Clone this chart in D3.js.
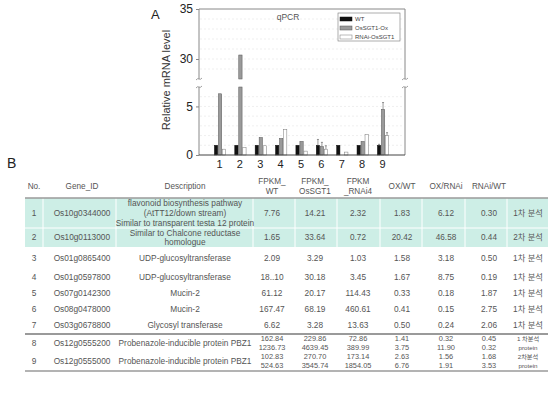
<!DOCTYPE html>
<html><head><meta charset="utf-8">
<script src="https://cdn.jsdelivr.net/npm/d3@7"></script>
<style>body{margin:0;background:#fff}svg{display:block}text{font-family:"Liberation Sans",Arial,"Noto Sans CJK KR",sans-serif}</style>
</head><body>
<svg id="c" width="559" height="414"></svg>
<script>
// ---- chart A data ----
const categories = ["1","2","3","4","5","6","7","8","9"];
const seriesNames = ["WT","OsSGT1-Ox","RNAi-OsSGT1"];
const wtValues   = [1.0, 1.0, 1.0, 1.0, 1.0, 1.0, 1.0, 1.0, 1.0];
const oxValues   = [6.3, 30.4, 1.8, 1.7, 1.4, 0.85, 0.0, 1.4, 4.7];
const rnaiValues = [0.6, 0.75, 0.95, 2.6, 0.4, 0.6, 0.3, 2.1, 2.0];
const wtErr   = [0, 0, 0, 0, 0, 0.6, 0, 0, 0.1];
const oxErr   = [0, 0, 0, 0, 0, 0.45, 0, 0, 0.7];
const rnaiErr = [0, 0, 0, 0, 0, 0.35, 0, 0, 0.3];
const lowTicks = [0, 5];
const highTicks = [30, 35];

// ---- table B data ----
const headers = [["No."],["Gene_ID"],["Description"],["FPKM_","WT"],["FPKM_","OsSGT1"],["FPKM","_RNAi4"],["OX/WT"],["OX/RNAi"],["RNAi/WT"],[""]];
const geneNo = ["1","2","3","4","5","6","7","8","9"];
const geneIDs = ["Os10g0344000","Os10g0113000","Os01g0865400","Os01g0597800","Os07g0142300","Os08g0478000","Os03g0678800","Os12g0555200","Os12g0555000"];
const descriptions = [
  ["flavonoid  biosynthesis pathway","(AtTT12/down  stream)","Similar to transparent  testa 12 protein"],
  ["Similar to Chalcone  reductase","homologue"],
  ["UDP-glucosyltransferase"],["UDP-glucosyltransferase"],["Mucin-2"],["Mucin-2"],
  ["Glycosyl transferase"],
  ["Probenazole-inducible  protein PBZ1"],["Probenazole-inducible  protein PBZ1"]];
const fpkmWT = [["7.76"],["1.65"],["2.09"],["18..10"],["61.12"],["167.47"],["6.62"],["162.84","1236.73"],["102.83","524.63"]];
const fpkmOX = [["14.21"],["33.64"],["3.29"],["30.18"],["20.17"],["68.19"],["3.28"],["229.86","4639.45"],["270.70","3545.74"]];
const fpkmRNAi = [["2.32"],["0.72"],["1.03"],["3.45"],["114.43"],["460.61"],["13.63"],["72.86","389.99"],["173.14","1854.05"]];
const oxWT = [["1.83"],["20.42"],["1.58"],["1.67"],["0.33"],["0.41"],["0.50"],["1.41","3.75"],["2.63","6.76"]];
const oxRNAi = [["6.12"],["46.58"],["3.18"],["8.75"],["0.18"],["0.15"],["0.24"],["0.32","11.90"],["1.56","1.91"]];
const rnaiWT = [["0.30"],["0.44"],["0.50"],["0.19"],["1.87"],["2.75"],["2.06"],["0.45","0.32"],["1.68","3.53"]];
const notes = [["1차 분석"],["2차 분석"],["1차 분석"],["1차 분석"],["1차 분석"],["1차 분석"],["1차 분석"],["1 차분석","protein"],["2차분석","protein"]];

const svg = d3.select("#c");

// ---------------- Chart A ----------------
const L = 199, R = 405;
const yLow = d3.scaleLinear().domain([0, 7]).range([155, 87]);
const yHigh = d3.scaleLinear().domain([28, 35]).range([79, 9]);
const x = d3.scalePoint().domain(categories).range([219, 382]);
const bw = 3.3, off = [-4.6, -0.6, 3.4];
const fills = ["#111", "#9a9a9a", "#fff"];
const strokes = ["#111", "#555", "#777"];
const series = [wtValues, oxValues, rnaiValues];
const errs = [wtErr, oxErr, rnaiErr];

const g = svg.append("g");
// faint grid
const gridLow = d3.range(1, 7), gridHigh = d3.range(29, 35);
gridLow.forEach(v => g.append("line").attr("x1", L+1).attr("x2", R-1).attr("y1", yLow(v)).attr("y2", yLow(v))
  .attr("stroke", "#e4e4e4").attr("stroke-dasharray", "2,2").attr("stroke-width", 0.6));
gridHigh.forEach(v => g.append("line").attr("x1", L+1).attr("x2", R-1).attr("y1", yHigh(v)).attr("y2", yHigh(v))
  .attr("stroke", "#e4e4e4").attr("stroke-dasharray", "2,2").attr("stroke-width", 0.6));

// bars
series.forEach((vals, si) => {
  vals.forEach((v, i) => {
    const cx = x(categories[i]) + off[si];
    if (v <= 0) return;
    const vLow = Math.min(v, 7);
    g.append("rect").attr("x", cx).attr("width", bw)
      .attr("y", yLow(vLow)).attr("height", yLow(0) - yLow(vLow))
      .attr("fill", fills[si]).attr("stroke", strokes[si]).attr("stroke-width", 0.5);
    if (v > 28) {
      g.append("rect").attr("x", cx).attr("width", bw)
        .attr("y", yHigh(v)).attr("height", yHigh(28) - yHigh(v))
        .attr("fill", fills[si]).attr("stroke", strokes[si]).attr("stroke-width", 0.5);
    }
    const e = errs[si][i];
    if (e > 0) {
      const xm = cx + bw/2;
      g.append("line").attr("x1", xm).attr("x2", xm).attr("y1", yLow(v)).attr("y2", yLow(v+e)).attr("stroke", "#555").attr("stroke-width", 0.6);
      g.append("line").attr("x1", xm-1).attr("x2", xm+1).attr("y1", yLow(v+e)).attr("y2", yLow(v+e)).attr("stroke", "#555").attr("stroke-width", 0.6);
    }
  });
});

// frame with breaks
const fc = "#888";
const lowAxis = d3.axisLeft(yLow).tickValues(lowTicks).tickSize(3).tickFormat(d3.format("d"));
const highAxis = d3.axisLeft(yHigh).tickValues(highTicks).tickSize(3).tickFormat(d3.format("d"));
[[lowAxis],[highAxis]].forEach(([ax]) => {
  const a = g.append("g").attr("transform", `translate(${L},0)`).call(ax);
  a.select(".domain").remove();
  a.selectAll(".tick line").attr("stroke", fc);
  a.selectAll(".tick text").attr("font-size", 12).attr("fill", "#222").attr("x", -6);
});
[L, R].forEach(xx => {
  g.append("line").attr("x1", xx).attr("x2", xx).attr("y1", yHigh(35)).attr("y2", yHigh(28)).attr("stroke", fc);
  g.append("line").attr("x1", xx).attr("x2", xx).attr("y1", yLow(7)).attr("y2", yLow(0)).attr("stroke", fc);
  [yHigh(28), yLow(7)].forEach(yy => g.append("path")
    .attr("d", `M${xx-3},${yy+1} q1.5,-2 3,-1 q1.5,1 3,-1`).attr("fill", "none").attr("stroke", fc).attr("stroke-width", 0.8));
});
g.append("line").attr("x1", L).attr("x2", R).attr("y1", yHigh(35)).attr("y2", yHigh(35)).attr("stroke", fc);
const xa = g.append("g").attr("transform", `translate(0,${yLow(0)})`).call(d3.axisBottom(x).tickSize(0).tickPadding(5));
xa.select(".domain").attr("d", `M${L},0H${R}`).attr("stroke", "#444");
xa.selectAll(".tick text").attr("font-size", 11).attr("fill", "#222");

g.append("text").attr("x", 288).attr("y", 20).attr("text-anchor", "middle").attr("font-size", 8.5).attr("fill", "#555").text("qPCR");
g.append("text").attr("transform", "translate(170,80) rotate(-90)").attr("text-anchor", "middle").attr("font-size", 11).attr("fill", "#333").text("Relative mRNA level");
svg.append("text").attr("x", 151).attr("y", 19).attr("font-size", 13).attr("fill", "#222").text("A");

// legend
const lg = g.append("g");
lg.append("rect").attr("x", 338).attr("y", 13).attr("width", 62).attr("height", 28).attr("fill", "#fff").attr("stroke", "#777").attr("stroke-width", 0.6);
seriesNames.forEach((n, i) => {
  const yy = 19 + i * 9;
  lg.append("rect").attr("x", 340).attr("y", yy - 2).attr("width", 12).attr("height", 4).attr("fill", fills[i]).attr("stroke", strokes[i]).attr("stroke-width", 0.5);
  lg.append("text").attr("x", 355).attr("y", yy).attr("dy", "0.35em").attr("font-size", 6).attr("fill", "#444").text(n);
});

// ---------------- Table B ----------------
svg.append("text").attr("x", 7).attr("y", 168).attr("font-size", 14).attr("fill", "#222").text("B");
const colX = [34, 82, 185, 272, 315, 358, 402, 446, 489, 528];
const sepX = [25, 43, 116, 253, 295, 337, 380, 422, 465, 507, 548];
const T0 = 25, T1 = 548;
const t = svg.append("g").attr("fill", "#555");
// band
t.append("rect").attr("x", T0).attr("y", 198).attr("width", T1 - T0).attr("height", 49).attr("fill", "#cdeee6");
sepX.slice(1, -1).forEach(sx => t.append("line").attr("x1", sx).attr("x2", sx).attr("y1", 198).attr("y2", 247).attr("stroke", "#fff").attr("stroke-width", 1));
t.append("line").attr("x1", T0).attr("x2", T1).attr("y1", 228).attr("y2", 228).attr("stroke", "#fff").attr("stroke-width", 1);
// rules
[[198, 1.5], [334, 2], [371, 1.6]].forEach(([yy, w]) => t.append("line").attr("x1", T0).attr("x2", T1).attr("y1", yy).attr("y2", yy).attr("stroke", "#9a9a9a").attr("stroke-width", w));

function cell(lines, cx, cy, step, fs) {
  const n = lines.length;
  lines.forEach((s, k) => t.append("text").attr("x", cx).attr("y", cy + (k - (n - 1) / 2) * step)
    .attr("dy", "0.35em").attr("text-anchor", "middle").attr("font-size", fs).attr("fill", "#555").text(s));
}
headers.forEach((h, j) => cell(h, colX[j], 186, 9.5, 8.2));
const rowY = [213, 237.5, 258, 277, 293, 309, 325, 343, 361];
const rowStep = [10, 9.5, 9, 9, 9, 9, 9, 9, 9];
const rowFont = [8.2, 8.2, 8.3, 8.3, 8.3, 8.3, 8.3, 7.4, 7.4];
const cols = [geneNo.map(d => [d]), geneIDs.map(d => [d]), descriptions, fpkmWT, fpkmOX, fpkmRNAi, oxWT, oxRNAi, rnaiWT, notes];
cols.forEach((col, j) => col.forEach((lines, i) => {
  let fs = j < 3 ? 8.3 : rowFont[i];
  if (j === 9 && i >= 7) fs = 6.2;
  cell(lines, colX[j], rowY[i], rowStep[i], fs);
}));
</script>
</body></html>
